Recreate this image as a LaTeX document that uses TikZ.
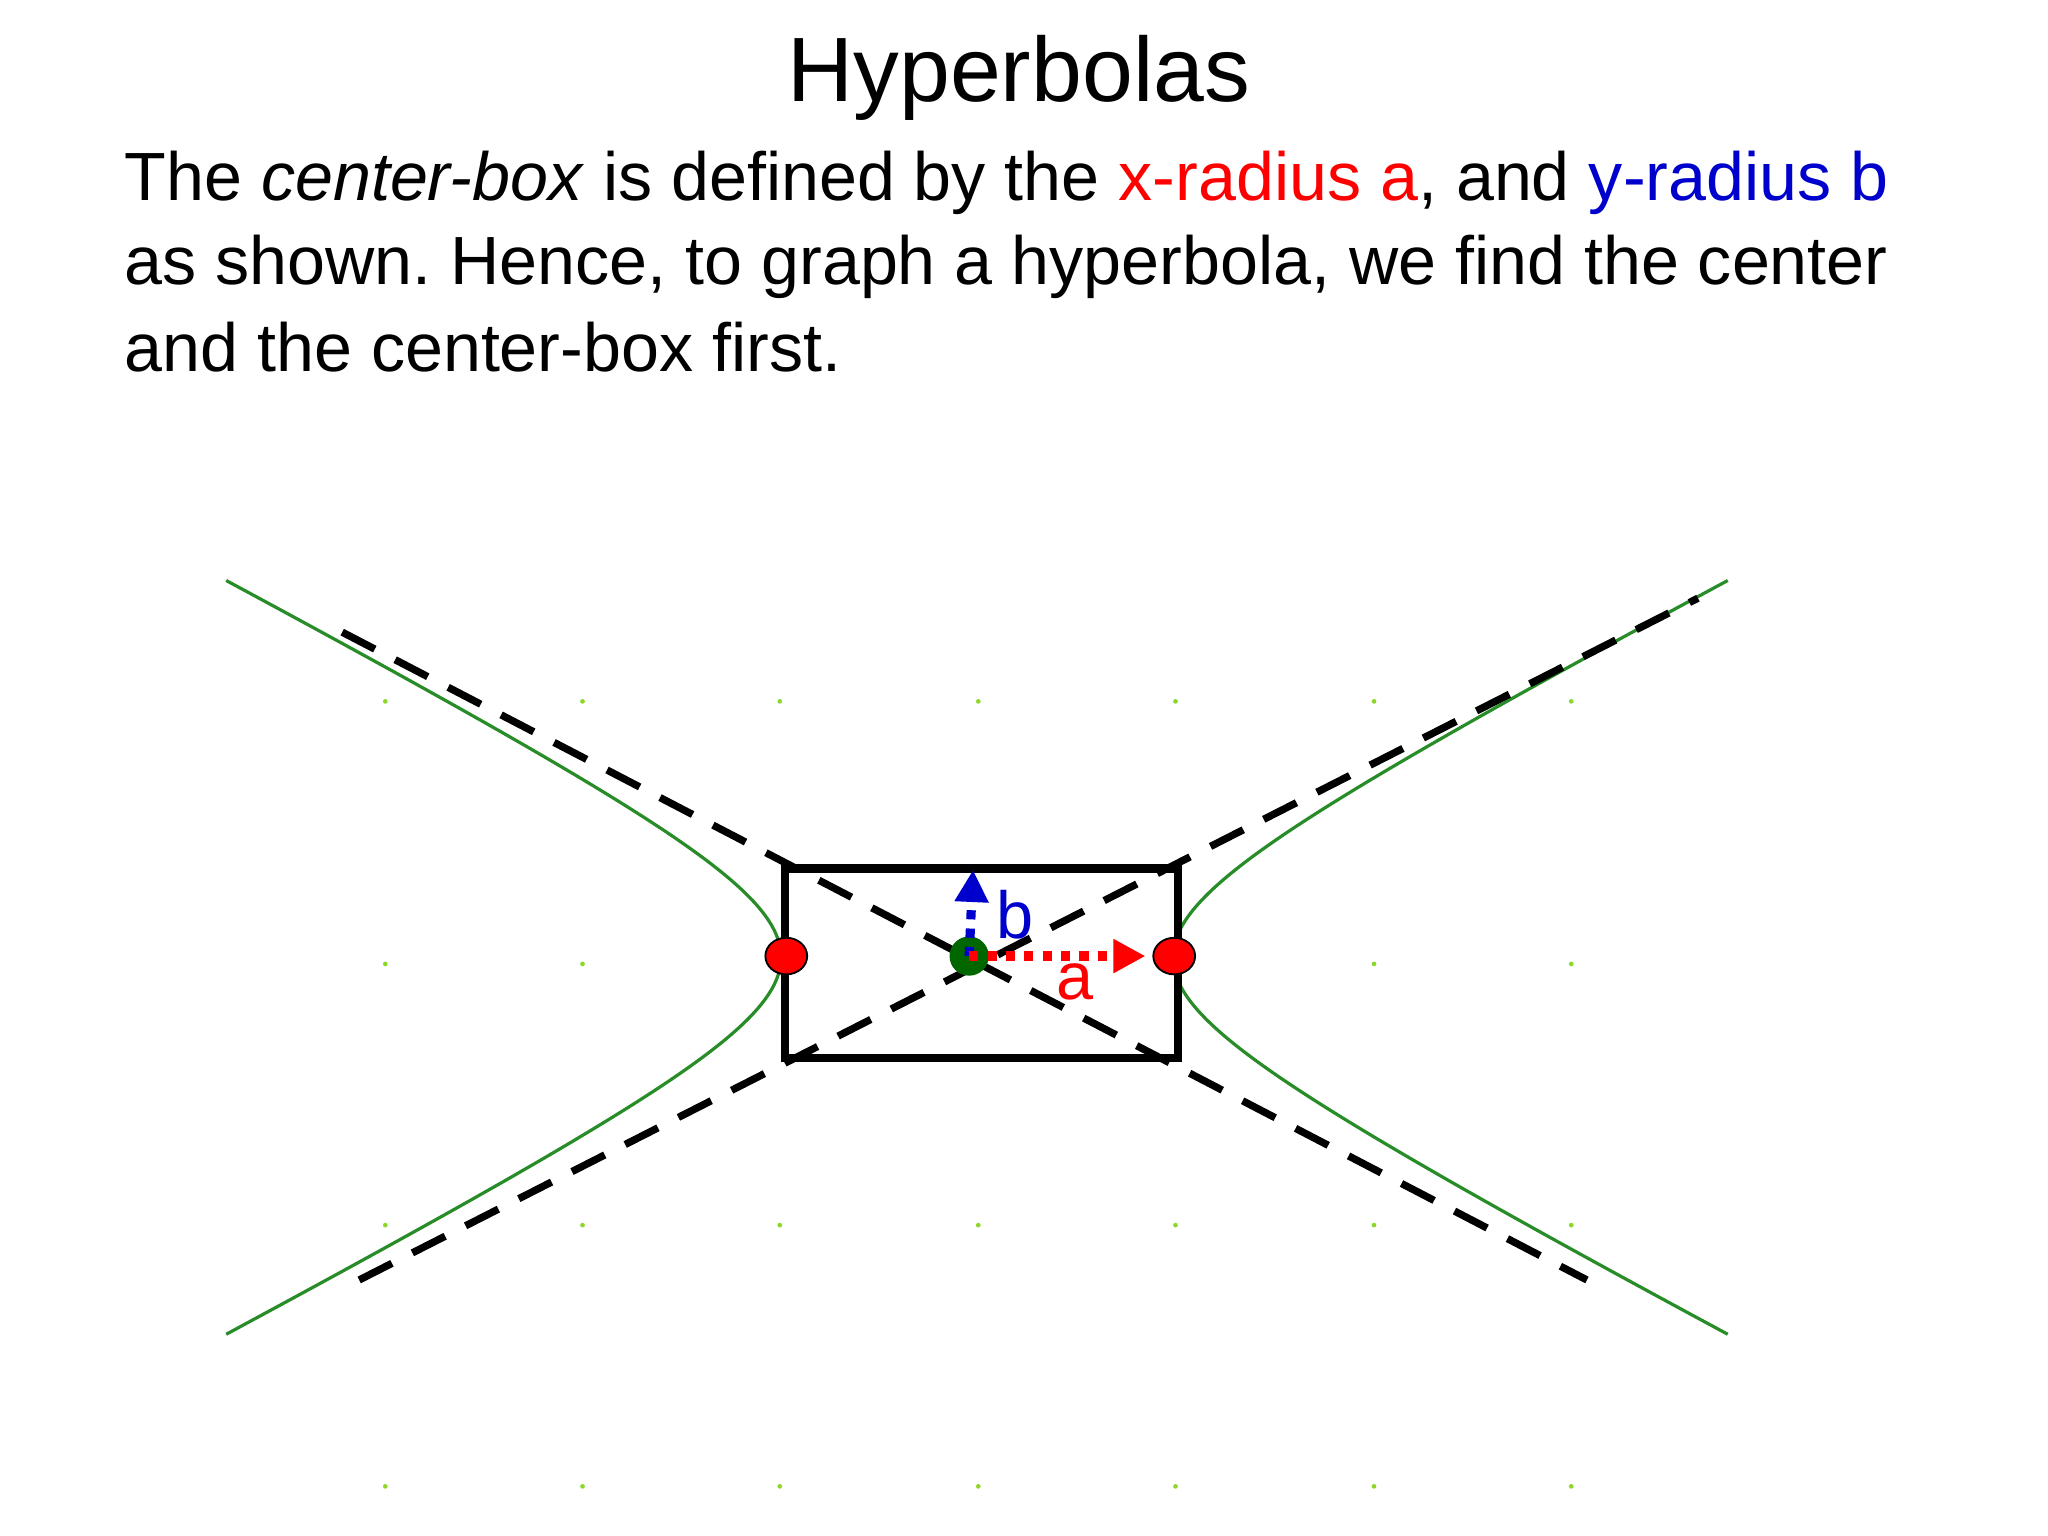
\documentclass[tikz,border=0pt]{standalone}
\usepackage{fontspec}
\setmainfont{Liberation Sans}
\usetikzlibrary{arrows.meta,shapes.geometric}
\definecolor{hgreen}{RGB}{40,140,40}
\definecolor{gdot}{RGB}{140,215,40}
\tikzset{asym/.style={black,line width=1.6pt,dash pattern=on 8pt off 5pt},
 vtx/.style={ellipse,draw=black,fill=red,minimum width=0.32cm,minimum height=0.28cm,inner sep=0pt},
 body/.style={anchor=west,font=\fontsize{14.85}{17}\selectfont}}
\frenchspacing
\begin{document}
\begin{tikzpicture}[x=0.01cm,y=-0.01cm]
\useasboundingbox (0,0) rectangle (1568,1176);
\node[font=\fontsize{19.9}{24}\selectfont] (title) at (780,60) {Hyperbolas};
\node[body] (l1) at (83,140) {The \textit{center-box} is defined by the \textcolor{red}{x-radius a}, and \textcolor{blue!80!black}{y-radius b}};
\node[body] (l2) at (83,204) {as shown. Hence, to graph a hyperbola, we find the center};
\node[body] (l3) at (83,266) {and the center-box first.};
\foreach \x in {295,446,597,749,900,1052,1203}
 \foreach \y in {537,738,938,1138}
  \fill[gdot] (\x,\y) circle (1.8);
\foreach \sx/\sy in {1/1,1/-1,-1/1,-1/-1}
 \draw[hgreen,line width=0.7pt,domain=0:2.02,samples=80,variable=\t]
  plot ({748+\sx*150*cosh(\t)},{733+\sy*78*sinh(\t)});
\coordinate (ul) at (262,484); \coordinate (lr) at (1215,980);
\coordinate (ll) at (275,980); \coordinate (ur) at (1300,458);
\draw[asym] (ul) -- (lr);
\draw[asym] (ll) -- (ur);
\draw[black,line width=1.8pt] (601,665) rectangle (902,810);
\node[vtx] (v1) at (602,732) {};
\node[vtx] (v2) at (899,732) {};
\node[circle,fill=green!40!black,minimum size=0.3cm,inner sep=0pt] (c) at (742,732) {};
\coordinate (bt) at (745,666); \coordinate (at) at (877,732);
\draw[blue!80!black,line width=2pt,dotted,-{Triangle[length=7pt,width=7pt]}] (c.center) -- (bt);
\draw[red,line width=2pt,dotted,-{Triangle[length=7pt,width=7pt]}] (c.center) -- (at);
\node[blue!80!black,font=\fontsize{14.5}{17}\selectfont] (lb) at (777,700) {b};
\node[red,font=\fontsize{14.5}{17}\selectfont] (la) at (823,752) {a};
\end{tikzpicture}
\end{document}
